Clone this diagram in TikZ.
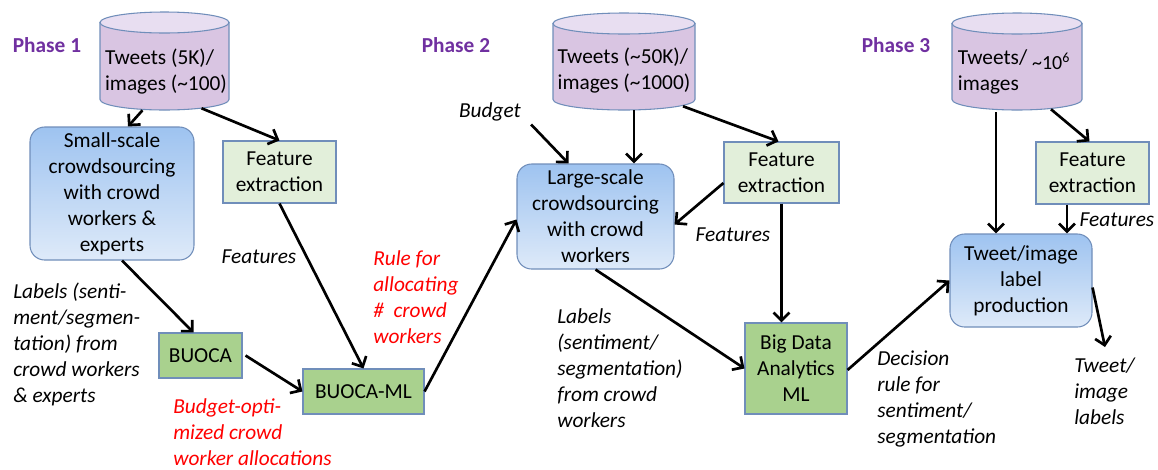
\documentclass[tikz,border=0pt]{standalone}
\usepackage{fontspec}
\setmainfont{Carlito}
\usepackage{tikz}
\usetikzlibrary{positioning,calc,arrows.meta}

\definecolor{phasecol}{RGB}{112,48,160}
\definecolor{edgecol}{RGB}{112,142,186}
\definecolor{dbbody}{RGB}{217,197,226}
\definecolor{dbtop}{RGB}{232,222,241}
\definecolor{crowdtop}{RGB}{158,195,240}
\definecolor{crowdbot}{RGB}{222,234,249}
\definecolor{featfill}{RGB}{226,239,218}
\definecolor{mlfill}{RGB}{169,209,142}

\tikzset{
  every node/.style={font=\fontsize{16}{19.5}\selectfont},
  dbarea/.style={inner sep=0pt},
  dbline/.style={draw=edgecol, line width=0.8pt},
  crowd/.style={draw=edgecol, line width=0.8pt, rounded corners=11pt, top color=crowdtop,
    bottom color=crowdbot, align=center, inner sep=0pt},
  feat/.style={draw=edgecol, line width=0.8pt, fill=featfill, align=center, inner sep=0pt},
  mlbox/.style={draw=edgecol, line width=0.8pt, fill=mlfill, align=center, inner sep=0pt},
  note/.style={font=\fontsize{16}{19.5}\selectfont\itshape, align=left, inner sep=0pt},
  rednote/.style={note, text=red},
  phase/.style={font=\fontsize{16}{19}\selectfont\bfseries, text=phasecol, inner sep=0pt},
  flow/.style={line width=2pt, -{Straight Barb[length=6pt,width=12pt]}}
}

\begin{document}
\begin{tikzpicture}[x=0.75pt,y=0.75pt,yscale=-1,xscale=1]
\useasboundingbox (0,0) rectangle (1158,469);

% Phase titles
\node[phase] (ph1) at (47,45) {Phase 1};
\node[phase] (ph2) at (456,45) {Phase 2};
\node[phase] (ph3) at (896,45) {Phase 3};

%Shape: Can (phase 1)
\draw[dbline, fill=dbbody] (100,22.5) -- (100,99.5) .. controls (100,105.3) and (128.88,110) .. (164.5,110) .. controls (200.12,110) and (229,105.3) .. (229,99.5) -- (229,22.5) -- cycle ;
\draw[dbline, fill=dbtop] (100,22.5) .. controls (100,16.7) and (128.88,12) .. (164.5,12) .. controls (200.12,12) and (229,16.7) .. (229,22.5) .. controls (229,28.3) and (200.12,33) .. (164.5,33) .. controls (128.88,33) and (100,28.3) .. (100,22.5) -- cycle ;
\node[dbarea, minimum width=96.75pt, minimum height=73.5pt] (tw1) at (164.5,61) {};
% Text Node
\node[align=left, inner sep=0pt] (tw1t) at (166,72) {Tweets (5K)/\\images (\textasciitilde100)};
%Shape: Rounded Rectangle
\node[crowd, minimum width=123pt, minimum height=99.75pt] (small) at (112,193.5) {Small-scale\\crowdsourcing\\with crowd\\workers \&\\experts};
%Shape: Rectangle
\node[feat, minimum width=84.75pt, minimum height=46.5pt] (fe1) at (279.5,172) {Feature\\extraction};
\node[mlbox, minimum width=62.25pt, minimum height=33.75pt] (buoca) at (200.5,355.5) {BUOCA};
\node[mlbox, minimum width=90.75pt, minimum height=33.75pt] (buocaml) at (363.5,391.5) {BUOCA-ML};

%Shape: Can (phase 2)
\draw[dbline, fill=dbbody] (553,23.5) -- (553,99.5) .. controls (553,105.3) and (584.79,110) .. (624,110) .. controls (663.21,110) and (695,105.3) .. (695,99.5) -- (695,23.5) -- cycle ;
\draw[dbline, fill=dbtop] (553,23.5) .. controls (553,17.7) and (584.79,13) .. (624,13) .. controls (663.21,13) and (695,17.7) .. (695,23.5) .. controls (695,29.3) and (663.21,34) .. (624,34) .. controls (584.79,34) and (553,29.3) .. (553,23.5) -- cycle ;
\node[dbarea, minimum width=106.5pt, minimum height=72.75pt] (tw2) at (624,61.5) {};
% Text Node
\node[align=left, inner sep=0pt] (tw2t) at (624,71) {Tweets (\textasciitilde50K)/\\images (\textasciitilde1000)};
\node[crowd, minimum width=117.75pt, minimum height=78.75pt] (large) at (595.5,216.5) {Large-scale\\crowdsourcing\\with crowd\\workers};
\node[feat, minimum width=86.25pt, minimum height=45.75pt] (fe2) at (781.5,172.5) {Feature\\extraction};
\node[mlbox, minimum width=76.5pt, minimum height=68.25pt] (bda) at (796,368.5) {Big Data\\Analytics\\ML};

%Shape: Can (phase 3)
\draw[dbline, fill=dbbody] (952,23.5) -- (952,99.5) .. controls (952,105.3) and (981.1,110) .. (1017,110) .. controls (1052.9,110) and (1082,105.3) .. (1082,99.5) -- (1082,23.5) -- cycle ;
\draw[dbline, fill=dbtop] (952,23.5) .. controls (952,17.7) and (981.1,13) .. (1017,13) .. controls (1052.9,13) and (1082,17.7) .. (1082,23.5) .. controls (1082,29.3) and (1052.9,34) .. (1017,34) .. controls (981.1,34) and (952,29.3) .. (952,23.5) -- cycle ;
\node[dbarea, minimum width=97.5pt, minimum height=72.75pt] (tw3) at (1017,61.5) {};
% Text Node
\node[align=left, inner sep=0pt] (tw3t) at (1014,72) {Tweets/ \smash{\raisebox{-4pt}{\fontsize{15}{15}\selectfont\textasciitilde10\textsuperscript{6}}}\\images};
\node[feat, minimum width=84.75pt, minimum height=46.5pt] (fe3) at (1092.5,173) {Feature\\extraction};
\node[crowd, minimum width=106.5pt, minimum height=69.75pt] (til) at (1021,280.5) {Tweet/image\\label\\production};

% Text Node
\node[note] (feat1) at (259,257) {Features};
\node[note, anchor=west] (lab1) at (13,344.5) {Labels (senti-\\ment/segmen-\\tation) from\\crowd workers\\\& experts};
\node[rednote, anchor=west] (rule) at (373,297.5) {Rule for\\allocating\\\#\ \ crowd\\workers};
\node[rednote, anchor=west] (alloc) at (173,432) {Budget-opti-\\mized crowd\\worker allocations};
\node[note] (budget) at (490,112) {Budget};
\node[note] (feat2) at (733,235) {Features};
\node[note, anchor=west] (lab2) at (557,368) {Labels\\(sentiment/\\segmentation)\\from crowd\\workers};
\node[note, anchor=west] (dec) at (877,399) {Decision\\rule for\\sentiment/\\segmentation};
\node[note] (feat3) at (1117,220) {Features};
\node[note, anchor=west] (outl) at (1074,391.5) {Tweet/\\image\\labels};
\coordinate (out) at (1105,347);
\coordinate (d3) at ($(tw3.south)+(-21,2)$);
\coordinate (f3) at ($(fe3.south)+(-25.5,0)$);

% Connectors
\draw[flow] ($(tw1.south)+(-22,0)$) -- ($(small.north)+(16,0)$);
\draw[flow] ($(tw1.south)+(37,-2)$) -- (fe1.north);
\draw[flow] (fe1.south) -- (buocaml.north);
\draw[flow] ($(small.south)+(10,0)$) -- ($(buoca.north)+(-7,0)$);
\draw[flow] ($(buoca.east)+(3,0)$) -- (buocaml.west);
\draw[flow] (buocaml.east) -- ($(large.west)+(0,3)$);
\draw[flow] ($(budget.south east)+(10,3)$) -- ($(large.north)+(-27,0)$);
\draw[flow] ($(tw2.south)+(10,0)$) -- ($(large.north)+(38.5,0)$);
\draw[flow] ($(tw2.south)+(59,-4)$) -- ($(fe2.north)+(-3,0)$);
\draw[flow] ($(fe2.west)+(0,10.5)$) -- ($(large.east)+(0,8)$);
\draw[flow] (fe2.south) -- (fe2.south |- bda.north);
\draw[flow] (large.south) -- (bda.west);
\draw[flow] ($(bda.east)+(0,1.5)$) -- (til.west);
\draw[flow] (d3) -- (d3 |- til.north);
\draw[flow] ($(tw3.south)+(34,-1)$) -- ($(fe3.north)+(-3,0)$);
\draw[flow] (f3) -- (f3 |- til.north);
\draw[flow] ($(til.east)+(0,7)$) -- (out);
\end{tikzpicture}
\end{document}
